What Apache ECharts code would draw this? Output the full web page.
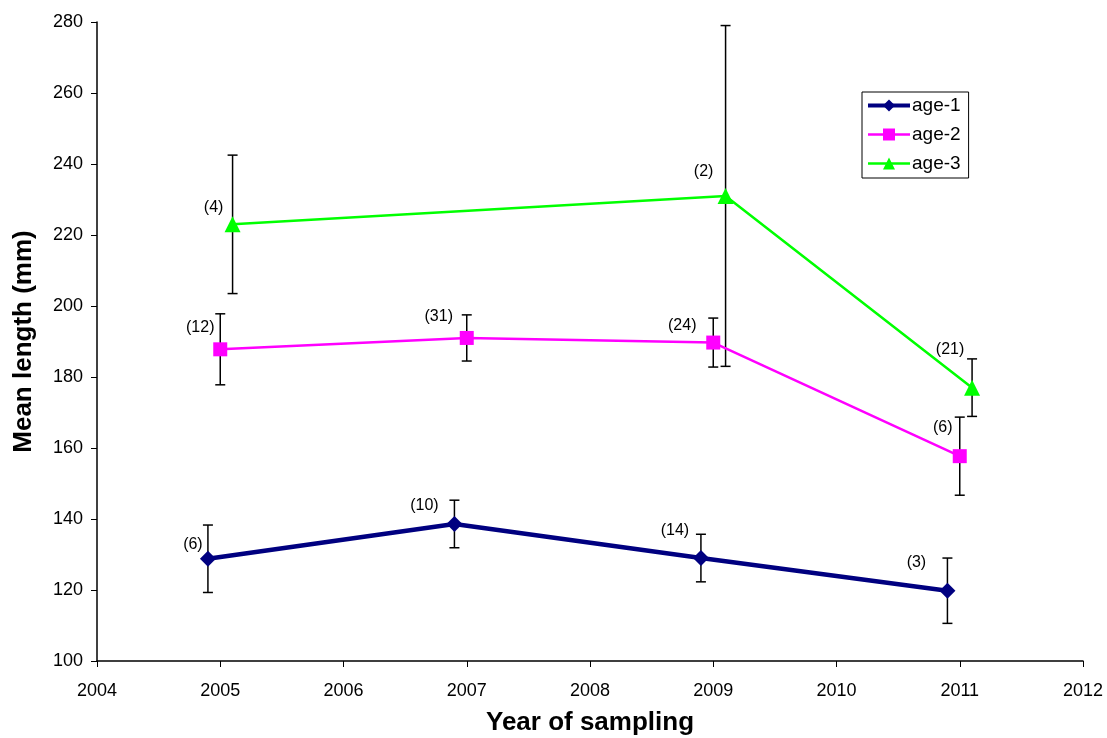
<!DOCTYPE html>
<html>
<head>
<meta charset="utf-8">
<script src="https://cdn.jsdelivr.net/npm/echarts@6/dist/echarts.min.js"></script>
<style>
html,body{margin:0;padding:0;background:#fff;}
#chart{width:1107px;height:738px;}
</style>
</head>
<body>
<div id="chart"></div>
<script>
// ---- data ----
const seriesNames = ['age-1', 'age-2', 'age-3'];
const xTicks = [2004, 2005, 2006, 2007, 2008, 2009, 2010, 2011, 2012];
const yTicks = [100, 120, 140, 160, 180, 200, 220, 240, 260, 280];

const age1Year = [2004.9, 2006.9, 2008.9, 2010.9];
const age1Mean = [128.8, 138.6, 129.0, 119.8];
const age1Err  = [9.5, 6.7, 6.7, 9.2];
const age1N    = [6, 10, 14, 3];

const age2Year = [2005.0, 2007.0, 2009.0, 2011.0];
const age2Mean = [187.8, 191.0, 189.7, 157.7];
const age2Err  = [10.0, 6.5, 6.9, 11.0];
const age2N    = [12, 31, 24, 6];

const age3Year = [2005.1, 2009.1, 2011.1];
const age3Mean = [223.0, 231.0, 177.0];
const age3Err  = [19.5, 48.0, 8.1];
const age3N    = [4, 2, 21];

// ---- layout / style (label offsets in pixels, relative to the marker) ----
const age1LabelOff = [[-15,-14],[-30,-18],[-26,-27],[-31,-28]];
const age2LabelOff = [[-20,-22],[-28,-21],[-31,-17],[-17,-29]];
const age3LabelOff = [[-19,-17],[-22,-24],[-22,-38]];

const FONT = 'Liberation Sans, Arial, sans-serif';

function lineData(years, means, ns, offs) {
  return years.map((y, i) => ({
    value: [y, means[i]],
    label: {
      show: true,
      position: 'inside',
      offset: offs[i],
      formatter: '(' + ns[i] + ')',
      color: '#000',
      fontSize: 16,
      fontFamily: FONT
    }
  }));
}
function errData(years, means, errs) {
  return years.map((y, i) => [y, means[i] - errs[i], means[i] + errs[i]]);
}
function errRender(params, api) {
  const x = api.value(0);
  const lo = api.coord([x, api.value(1)]);
  const hi = api.coord([x, api.value(2)]);
  const w = 5;
  const st = { stroke: '#000', lineWidth: 1.5 };
  return {
    type: 'group',
    children: [
      { type: 'line', shape: { x1: lo[0], y1: lo[1], x2: hi[0], y2: hi[1] }, style: st },
      { type: 'line', shape: { x1: lo[0]-w, y1: lo[1], x2: lo[0]+w, y2: lo[1] }, style: st },
      { type: 'line', shape: { x1: hi[0]-w, y1: hi[1], x2: hi[0]+w, y2: hi[1] }, style: st }
    ]
  };
}

const chart = echarts.init(document.getElementById('chart'), null, { renderer: 'canvas' });
const option = {
  animation: false,
  backgroundColor: '#fff',
  textStyle: { fontFamily: FONT },
  grid: { left: 97, right: 24, top: 22, bottom: 77, containLabel: false, outerBoundsMode: 'none' },
  xAxis: {
    type: 'value', min: xTicks[0], max: xTicks[xTicks.length - 1], interval: 1,
    name: 'Year of sampling', nameLocation: 'middle', nameGap: 49,
    nameTextStyle: { fontSize: 26, fontWeight: 'bold', color: '#000', fontFamily: FONT },
    axisLine: { lineStyle: { color: '#000', width: 1.5 } },
    axisTick: { show: true, length: 6, inside: false, lineStyle: { color: '#000' } },
    axisLabel: { fontSize: 18, color: '#000', margin: 21, fontFamily: FONT, formatter: v => String(v) },
    splitLine: { show: false }
  },
  yAxis: {
    type: 'value', min: yTicks[0], max: yTicks[yTicks.length - 1], interval: 20,
    name: 'Mean length (mm)', nameLocation: 'middle', nameGap: 60, nameRotate: 90,
    nameTextStyle: { fontSize: 26, fontWeight: 'bold', color: '#000', fontFamily: FONT },
    axisLine: { show: true, lineStyle: { color: '#000', width: 1.5 } },
    axisTick: { show: true, length: 6, lineStyle: { color: '#000' } },
    axisLabel: { fontSize: 18, color: '#000', margin: 14, fontFamily: FONT },
    splitLine: { show: false }
  },
  legend: {
    data: [
      { name: 'age-1', lineStyle: { width: 4 } },
      { name: 'age-2', lineStyle: { width: 2.5 } },
      { name: 'age-3', lineStyle: { width: 2.5 } }
    ],
    orient: 'vertical',
    left: 862, top: 92,
    itemWidth: 42, itemHeight: 15, itemGap: 10,
    padding: [4, 8, 5, 4],
    borderColor: '#000', borderWidth: 1,
    backgroundColor: '#fff',
    textStyle: { fontSize: 19, color: '#000', fontFamily: FONT, padding: [0,0,0,-3] }
  },
  series: [
    { type: 'custom', name: 'err1', renderItem: errRender, data: errData(age1Year, age1Mean, age1Err), encode: { x: 0, y: [1, 2] }, z: 1, silent: true },
    { type: 'custom', name: 'err2', renderItem: errRender, data: errData(age2Year, age2Mean, age2Err), encode: { x: 0, y: [1, 2] }, z: 1, silent: true },
    { type: 'custom', name: 'err3', renderItem: errRender, data: errData(age3Year, age3Mean, age3Err), encode: { x: 0, y: [1, 2] }, z: 1, silent: true },
    {
      type: 'line', name: 'age-1', data: lineData(age1Year, age1Mean, age1N, age1LabelOff),
      color: '#000080', symbol: 'diamond', symbolSize: 16,
      lineStyle: { color: '#000080', width: 4.5 }, itemStyle: { color: '#000080' }, z: 3
    },
    {
      type: 'line', name: 'age-2', data: lineData(age2Year, age2Mean, age2N, age2LabelOff),
      color: '#FF00FF', symbol: 'rect', symbolSize: 14,
      lineStyle: { color: '#FF00FF', width: 2.5 }, itemStyle: { color: '#FF00FF' }, z: 3
    },
    {
      type: 'line', name: 'age-3', data: lineData(age3Year, age3Mean, age3N, age3LabelOff),
      color: '#00FF00', symbol: 'triangle', symbolSize: 16,
      lineStyle: { color: '#00FF00', width: 2.5 }, itemStyle: { color: '#00FF00' }, z: 3
    }
  ]
};
chart.setOption(option);
</script>
</body>
</html>
